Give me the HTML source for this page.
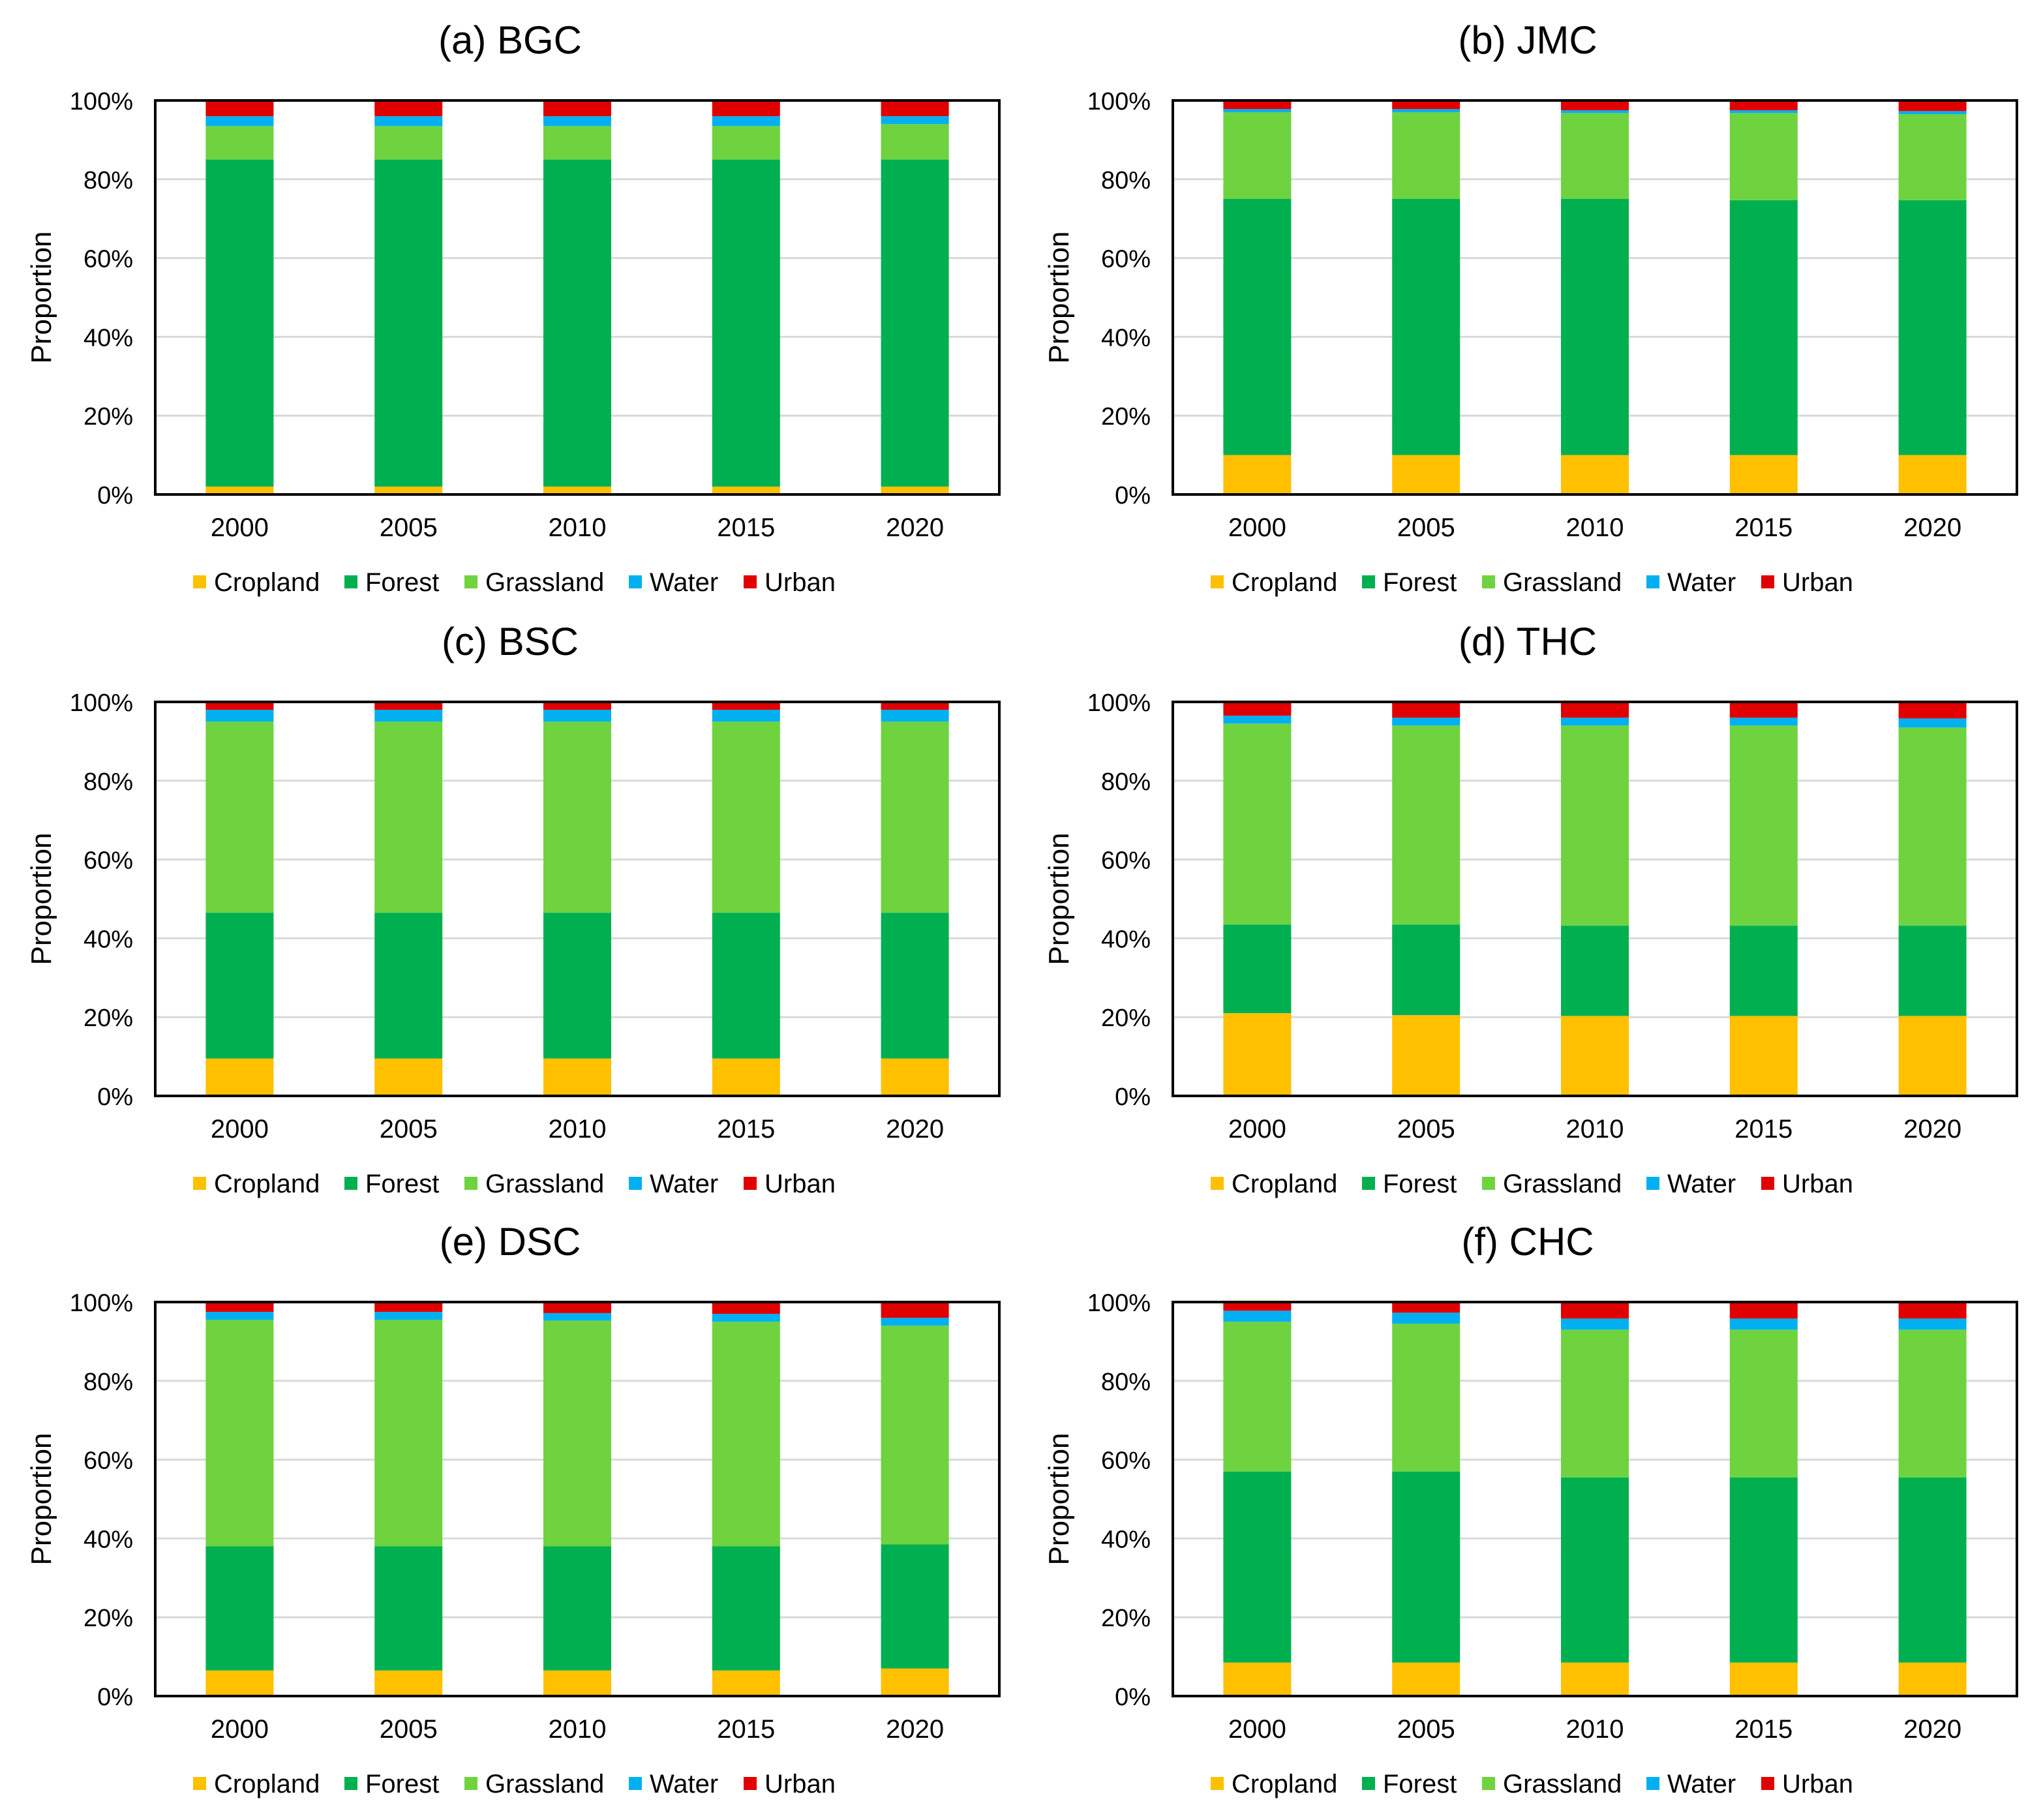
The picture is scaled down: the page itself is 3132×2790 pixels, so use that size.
<!DOCTYPE html>
<html><head><meta charset="utf-8"><style>
html,body{margin:0;padding:0;background:#fff;}
svg{display:block;font-family:"Liberation Sans",Arial,sans-serif;}
</style></head><body>
<svg id="fig" width="3132" height="2790" viewBox="0 0 1566 1395" xmlns="http://www.w3.org/2000/svg"></svg>
<script>
const years = ["2000","2005","2010","2015","2020"];
const classes = ["Cropland","Forest","Grassland","Water","Urban"];
const colors = ["#FFC000","#00B050","#6ED33F","#00B0F0","#E00000"];
const yTicks = [0,20,40,60,80,100];
const titles = ["(a) BGC","(b) JMC","(c) BSC","(d) THC","(e) DSC","(f) CHC"];
// cumulative tops per class (Cropland, Forest, Grassland, Water) per year; Urban fills to 100
const bgcTops = [[2,85,93.5,96],[2,85,93.5,96],[2,85,93.5,96],[2,85,93.5,96],[2,85,94,96]];
const jmcTops = [[10,75,97,97.8],[10,75,97,97.8],[10,75,96.8,97.5],[10,74.7,96.8,97.5],[10,74.7,96.5,97.3]];
const bscTops = [[9.5,46.5,95,98],[9.5,46.5,95,98],[9.5,46.5,95,98],[9.5,46.5,95,98],[9.5,46.5,95,98]];
const thcTops = [[21,43.5,94.5,96.5],[20.5,43.5,94,96],[20.3,43.2,94,96],[20.3,43.2,94,96],[20.3,43.2,93.5,95.8]];
const dscTops = [[6.5,38,95.5,97.5],[6.5,38,95.5,97.5],[6.5,38,95.3,97.2],[6.5,38,95,97],[7,38.5,94,96]];
const chcTops = [[8.5,57,95,97.8],[8.5,57,94.5,97.3],[8.5,55.5,93,95.8],[8.5,55.5,93,95.8],[8.5,55.5,93,95.8]];
const panels = [bgcTops,jmcTops,bscTops,thcTops,dscTops,chcTops];

const NS="http://www.w3.org/2000/svg";
const svg=document.getElementById('fig');
function mk(tag,attrs,parent){const e=document.createElementNS(NS,tag);for(const k in attrs)e.setAttribute(k,attrs[k]);(parent||svg).appendChild(e);return e;}
const colX=[119,899], rowY=[77,538,998], plotW=647, plotH=302;
panels.forEach((tops,p)=>{
  const x0=colX[p%2], y0=rowY[Math.floor(p/2)];
  const g=mk('g',{});
  
  
  const yS=v=>y0+plotH-v/100*plotH;
  const bw=plotW/years.length;
  const xS=i=>x0+(i+0.5)*bw;
  const t=mk('text',{x:x0+272,y:y0-36,'font-size':30,'text-anchor':'middle',fill:'#000'},g);
  t.textContent=titles[p];
  
  
  yTicks.forEach(v=>{
    if(v>0&&v<100){const l=mk('line',{x1:x0,x2:x0+plotW,y1:yS(v),y2:yS(v),stroke:'#d9d9d9','stroke-width':1.5},g);
    }
    const tl=mk('text',{x:x0-17,y:yS(v)+7,'font-size':19,'text-anchor':'end',fill:'#000'},g);
    tl.textContent=v+'%';
    
    
  });
  tops.forEach((row,i)=>{
    const cum=[0].concat(row).concat([100]);
    for(let c=0;c<5;c++){
      const r=mk('rect',{x:xS(i)-26,y:yS(cum[c+1]),width:52,height:Math.max(0,yS(cum[c])-yS(cum[c+1])),fill:colors[c]},g);
      
      
    }
    const xl=mk('text',{x:xS(i),y:y0+plotH+32,'font-size':20,'text-anchor':'middle',fill:'#000'},g);
    xl.textContent=years[i];
    
    
  });
  const fr=mk('rect',{x:x0,y:y0,width:plotW,height:plotH,fill:'none',stroke:'#000','stroke-width':2},g);
  
  
  const yt=mk('text',{x:0,y:0,'font-size':22,'text-anchor':'middle',fill:'#000',transform:`translate(${x0-80},${y0+plotH/2}) rotate(-90)`},g);
  yt.textContent='Proportion';
  
  
  const offs=[29,145,237,363,451];
  classes.forEach((c,k)=>{
    const lg=mk('g',{},g);
    
    
    const ly=y0+plotH+67;
    mk('rect',{x:x0+offs[k],y:ly-5,width:10,height:10,fill:colors[k]},lg);
    const tx=mk('text',{x:x0+offs[k]+16,y:ly+7,'font-size':20,fill:'#000'},lg);
    tx.textContent=c;
  });
});
</script>
</body></html>
